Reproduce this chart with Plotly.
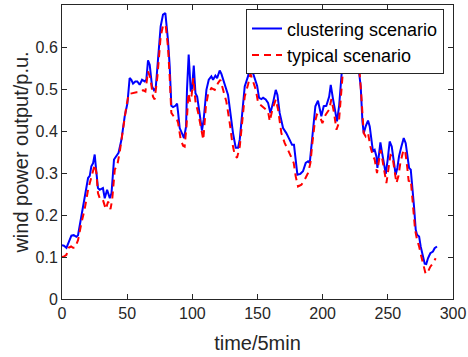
import plotly.graph_objects as go

clustering_x = [0, 1.5, 3.4, 5.5, 7.2, 9, 11, 12.3, 14.9, 17.4, 20, 21.3, 22.5, 23.8, 25.1, 25.8, 27.6, 28.9, 31.4, 32.8, 34.6, 36.7, 38, 39.9, 41.7, 43.4, 45.6, 48.1, 50.2, 51.9, 53.2, 54.5, 56.3, 57.8, 59.6, 61.4, 63.4, 64.7, 66, 67.3, 69.1, 70.6, 71.9, 73.7, 75.7, 77.5, 79.3, 81.3, 82.6, 83.9, 85.2, 87, 88.3, 89.1, 90.3, 92.4, 93.6, 95.2, 95.9, 97.2, 98.8, 99.8, 101.1, 102.4, 103.7, 105.7, 107.4, 108.7, 110.8, 112.6, 114.6, 115.9, 117.7, 119, 121, 122.3, 124.8, 127.4, 129.2, 131.2, 133.3, 135.1, 136.4, 138.1, 140.2, 142.7, 144.6, 146.1, 147.9, 149.7, 151.2, 153, 154.3, 156.3, 158.1, 159.9, 161.9, 164, 165.3, 167, 169.6, 172.1, 174.7, 176.5, 178, 179.3, 180.6, 182.9, 184.9, 187, 188.8, 190.1, 192.1, 194.4, 196.4, 197.7, 199, 200.8, 202.8, 205, 206.2, 208, 210, 211, 212.6, 213.6, 215.1, 216.4, 218, 220, 222, 224, 226, 227.1, 229.2, 230.5, 231.5, 233, 234.8, 236.1, 237.4, 238.6, 239.9, 241.2, 242, 243.3, 244.3, 245.6, 246.9, 248.4, 249.9, 251.4, 253, 254.5, 256, 257.3, 258.6, 260.4, 262.2, 263.7, 264.8, 266.3, 267.6, 268.9, 270.1, 271.4, 272.4, 274, 275.2, 277, 278.3, 279.5, 280.8, 282.6, 284.6, 285.9, 287.7]
clustering_y = [0.128, 0.127, 0.122, 0.14, 0.151, 0.152, 0.148, 0.152, 0.197, 0.236, 0.288, 0.293, 0.316, 0.323, 0.344, 0.32, 0.264, 0.26, 0.264, 0.24, 0.26, 0.24, 0.252, 0.332, 0.34, 0.348, 0.379, 0.435, 0.466, 0.526, 0.522, 0.513, 0.518, 0.518, 0.51, 0.522, 0.518, 0.522, 0.568, 0.558, 0.506, 0.497, 0.502, 0.57, 0.649, 0.677, 0.681, 0.617, 0.556, 0.46, 0.457, 0.46, 0.465, 0.443, 0.407, 0.392, 0.383, 0.411, 0.498, 0.582, 0.494, 0.502, 0.556, 0.49, 0.482, 0.439, 0.401, 0.427, 0.498, 0.522, 0.53, 0.522, 0.532, 0.526, 0.544, 0.536, 0.51, 0.486, 0.443, 0.395, 0.36, 0.36, 0.38, 0.443, 0.506, 0.53, 0.558, 0.542, 0.526, 0.508, 0.479, 0.476, 0.479, 0.475, 0.467, 0.443, 0.467, 0.498, 0.486, 0.443, 0.407, 0.395, 0.379, 0.367, 0.367, 0.324, 0.296, 0.298, 0.304, 0.324, 0.328, 0.324, 0.395, 0.459, 0.472, 0.455, 0.435, 0.459, 0.46, 0.482, 0.51, 0.475, 0.435, 0.423, 0.459, 0.498, 0.57, 0.61, 0.64, 0.655, 0.65, 0.63, 0.59, 0.558, 0.506, 0.423, 0.395, 0.411, 0.425, 0.411, 0.379, 0.351, 0.355, 0.34, 0.312, 0.351, 0.373, 0.348, 0.324, 0.298, 0.332, 0.375, 0.363, 0.332, 0.296, 0.312, 0.34, 0.363, 0.383, 0.371, 0.34, 0.312, 0.308, 0.268, 0.22, 0.165, 0.153, 0.149, 0.125, 0.101, 0.084, 0.083, 0.097, 0.109, 0.113, 0.121, 0.125]

typical_x = [0, 1.5, 3.4, 5, 7, 8.5, 10, 12.3, 14.9, 17.4, 20, 21.3, 23, 25.1, 26.4, 27.6, 29.4, 31.4, 33.6, 35.4, 37.2, 38.5, 40.5, 42.5, 44.3, 46.8, 49.4, 51.2, 53.8, 57.1, 59.6, 62.2, 64, 66, 67.8, 69.8, 71.1, 73.2, 75.7, 77.5, 79.5, 81.3, 82.6, 83.9, 85.7, 87.8, 89.1, 91.1, 92.9, 94.1, 95.5, 97, 98.3, 99.5, 100.8, 102.4, 104.5, 106.3, 108.4, 110.4, 112.2, 114.6, 117.2, 119.7, 121.5, 123.6, 126.1, 128.7, 130.7, 132.5, 134.3, 136.4, 138.4, 140.2, 142.7, 144.6, 146.6, 148.7, 150.5, 153, 155.6, 158.1, 159.4, 161.4, 164, 165.8, 168.3, 170.9, 173.4, 176, 177.8, 179.3, 181.1, 183.7, 186.2, 188.8, 190.6, 192.1, 193.9, 195.6, 197.7, 199.8, 202.3, 205, 206.7, 208.5, 210.6, 212.4, 214, 215.1, 217, 219, 221, 223, 225, 226.5, 227.9, 229.7, 231.5, 233, 234.8, 236.6, 238.6, 239.9, 241.7, 243.3, 244.5, 245.8, 247.6, 248.9, 250.4, 252, 253.5, 255.1, 256.6, 258.1, 259.6, 261.7, 263.2, 264.8, 266, 267.6, 269.4, 270.9, 272.4, 274, 275.7, 277.5, 279, 280.8, 282.6, 284.6, 286.7]
typical_y = [0.1, 0.101, 0.105, 0.122, 0.125, 0.122, 0.122, 0.14, 0.181, 0.214, 0.26, 0.276, 0.3, 0.32, 0.3, 0.252, 0.236, 0.236, 0.214, 0.232, 0.214, 0.236, 0.308, 0.32, 0.35, 0.407, 0.459, 0.488, 0.49, 0.492, 0.492, 0.497, 0.494, 0.542, 0.526, 0.482, 0.475, 0.53, 0.625, 0.651, 0.653, 0.601, 0.53, 0.443, 0.435, 0.431, 0.419, 0.379, 0.365, 0.363, 0.411, 0.49, 0.47, 0.486, 0.526, 0.47, 0.443, 0.415, 0.379, 0.459, 0.49, 0.502, 0.498, 0.514, 0.522, 0.498, 0.47, 0.419, 0.371, 0.343, 0.336, 0.363, 0.427, 0.482, 0.51, 0.536, 0.518, 0.498, 0.467, 0.46, 0.452, 0.447, 0.423, 0.451, 0.475, 0.451, 0.395, 0.371, 0.355, 0.336, 0.324, 0.292, 0.268, 0.272, 0.284, 0.3, 0.324, 0.371, 0.419, 0.439, 0.435, 0.419, 0.439, 0.451, 0.476, 0.447, 0.403, 0.419, 0.475, 0.53, 0.6, 0.63, 0.64, 0.62, 0.6, 0.57, 0.558, 0.482, 0.395, 0.387, 0.395, 0.363, 0.34, 0.332, 0.3, 0.332, 0.355, 0.332, 0.3, 0.276, 0.308, 0.343, 0.34, 0.308, 0.276, 0.292, 0.324, 0.351, 0.355, 0.316, 0.28, 0.284, 0.22, 0.165, 0.141, 0.125, 0.101, 0.077, 0.06, 0.065, 0.077, 0.085, 0.097]

x_ticks = [0, 50, 100, 150, 200, 250, 300]
y_ticks = [0, 0.1, 0.2, 0.3, 0.4, 0.5, 0.6]
y_tick_labels = ["0", "0.1", "0.2", "0.3", "0.4", "0.5", "0.6"]

FONT = "Liberation Sans, Arial, sans-serif"
AX = "#262626"

fig = go.Figure()
fig.add_trace(go.Scatter(x=clustering_x, y=clustering_y, mode="lines",
                         name="clustering scenario",
                         line=dict(color="#0000ff", width=2)))
fig.add_trace(go.Scatter(x=typical_x, y=typical_y, mode="lines",
                         name="typical scenario",
                         line=dict(color="#ff0000", width=2, dash="7px,5px")))

axis_common = dict(showgrid=False, zeroline=False, showline=True, linecolor=AX,
                   linewidth=1, mirror="ticks", ticks="inside", ticklen=5,
                   tickcolor=AX, tickfont=dict(family=FONT, size=16, color=AX))
fig.update_xaxes(range=[0, 300], tickvals=x_ticks,
                 title=dict(text="time/5min", font=dict(family=FONT, size=20, color=AX), standoff=14),
                 **axis_common)
fig.update_yaxes(range=[0, 0.7], tickvals=y_ticks, ticktext=y_tick_labels,
                 title=dict(text="wind power output/p.u.", font=dict(family=FONT, size=20, color=AX), standoff=1),
                 **axis_common)

fig.update_layout(
    width=468, height=357,
    margin=dict(l=62, r=15, t=5, b=58, autoexpand=False),
    plot_bgcolor="white", paper_bgcolor="white",
    font=dict(family=FONT, color=AX),
    legend=dict(x=0.977, y=0.985, xanchor="right", yanchor="top",
                bgcolor="white", bordercolor=AX, borderwidth=1,
                font=dict(family=FONT, size=18, color="black"),
                tracegroupgap=0, itemwidth=30),
    showlegend=True,
)

fig.write_html("out.html", config={"displayModeBar": False},
               post_script="document.body.style.margin='0';document.body.style.padding='0';")
